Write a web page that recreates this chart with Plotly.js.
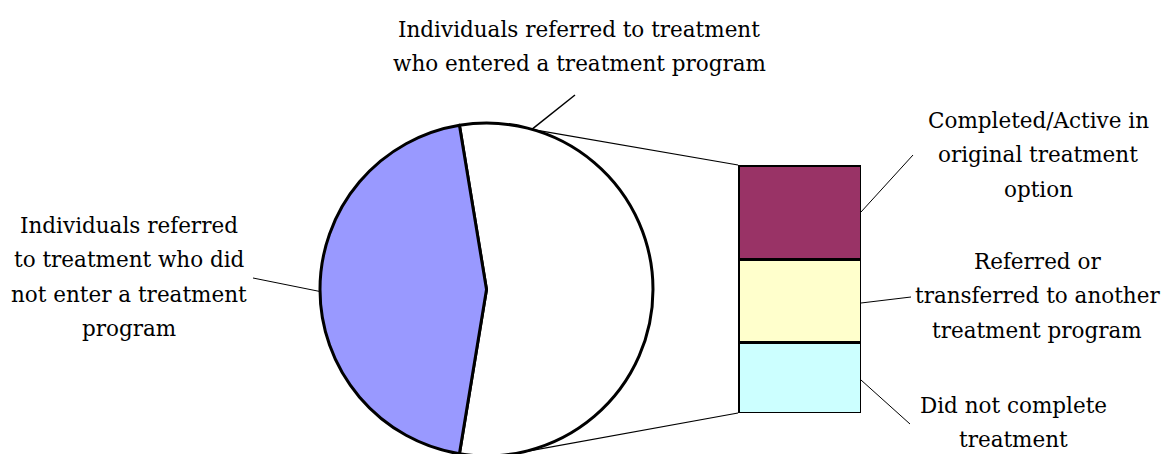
<!DOCTYPE html>
<html>
<head>
<meta charset="utf-8">
<script src="https://cdn.plot.ly/plotly-3.0.1.min.js"></script>
<style>
html,body{margin:0;padding:0;background:#fff;}
#wrap{width:1164px;height:454px;overflow:hidden;}
#chart{width:1164px;height:464px;}
</style>
</head>
<body>
<div id="wrap"><div id="chart"></div></div>
<script>
// ---- data (percent of all individuals referred to treatment) ----
const pieLabels = ["Individuals referred to treatment who entered a treatment program",
                   "Individuals referred to treatment who did not enter a treatment program"];
const notEntered = 44.8;
const barCategories = ["Did not complete treatment",
                       "Referred or transferred to another treatment program",
                       "Completed/Active in original treatment option"];
const barValues = [15.6, 18.6, 21.0];   // bottom -> top
const barColors = ["#CCFFFF", "#FFFFCC", "#993366"];

// label text, split in lines as in the picture
const labelEntered = ["Individuals referred to treatment", "who entered a treatment program"];
const labelNotEntered = ["Individuals referred", "to treatment who did", "not enter a treatment", "program"];
const labelCompleted = ["Completed/Active in", "original treatment", "option"];
const labelReferred = ["Referred or", "transferred to another", "treatment program"];
const labelDidNot = ["Did not complete", "treatment"];

// ---- geometry ----
const W = 1164, H = 464;
const pie = {cx: 486.5, cy: 289.5, r: 166.5};
const bar = {x0: 738, x1: 861, yTop: 165, yBot: 413};
const px = x => x / W;
const py = y => 1 - y / H;

const entered = barValues.reduce((a, b) => a + b, 0);
const total = entered + notEntered;
const rotation = 90 - 180 * entered / total;

function piePoint(angDeg) {
  const a = angDeg * Math.PI / 180;
  return [pie.cx + pie.r * Math.sin(a), pie.cy - pie.r * Math.cos(a)];
}

const traces = [
  {
    type: "pie",
    labels: pieLabels,
    values: [entered, notEntered],
    sort: false,
    direction: "clockwise",
    rotation: rotation,
    textinfo: "none",
    hoverinfo: "none",
    marker: {colors: ["#FFFFFF", "#9999FF"], line: {color: "#000", width: 3}},
    domain: {x: [px(pie.cx - pie.r), px(pie.cx + pie.r)], y: [py(pie.cy + pie.r), py(pie.cy - pie.r)]},
    showlegend: false
  }
];
barCategories.forEach((c, i) => {
  traces.push({
    type: "bar", x: [0], y: [barValues[i]], width: [1], name: c,
    marker: {color: barColors[i], line: {color: "#000", width: 3}},
    hoverinfo: "none", showlegend: false, xaxis: "x", yaxis: "y"
  });
});

const pTop = piePoint(15.8), pBot = piePoint(169.4);
const line = (x0, y0, x1, y1, w) => ({type: "line", xref: "paper", yref: "paper",
  x0: px(x0), y0: py(y0), x1: px(x1), y1: py(y1), line: {color: "#000", width: w}});

const shapes = [
  line(pTop[0], pTop[1], bar.x0, bar.yTop, 1.2),
  line(pBot[0], pBot[1], bar.x0, bar.yBot, 1.2),
  // leaders
  line(pTop[0], pTop[1], 575, 95, 1.5),
  line(253, 278, pie.cx - pie.r, pie.cy + 2, 1),
  line(bar.x1, 212, 913, 155, 1),
  line(bar.x1, 303, 911, 297, 1),
  line(bar.x1, 380, 910, 424, 1)
];

const FS = 21.5, LS = 34.5;
const font = {family: "DejaVu Serif", size: FS, color: "#000"};
const annotations = [];
function block(lines, cx, firstBaseline) {
  lines.forEach((t, i) => {
    const base = firstBaseline + i * LS;
    annotations.push({xref: "paper", yref: "paper", x: px(cx), y: py(base - 0.35 * FS), text: t,
      showarrow: false, xanchor: "center", yanchor: "middle", align: "center", font: font});
  });
}
block(labelEntered, 579, 37);
block(labelNotEntered, 129, 233);
block(labelCompleted, 1038, 128);
block(labelReferred, 1037, 269);
block(labelDidNot, 1013, 413);

const layout = {
  width: W, height: H,
  margin: {l: 0, r: 0, t: 0, b: 0},
  paper_bgcolor: "#fff", plot_bgcolor: "rgba(0,0,0,0)",
  barmode: "stack", bargap: 0,
  xaxis: {domain: [px(bar.x0), px(bar.x1)], range: [-0.5, 0.5], visible: false, fixedrange: true},
  yaxis: {domain: [py(bar.yBot), py(bar.yTop)], range: [0, entered], visible: false, fixedrange: true},
  shapes: shapes,
  annotations: annotations,
  showlegend: false
};

Plotly.newPlot("chart", traces, layout, {staticPlot: true, displayModeBar: false});
</script>
</body>
</html>
